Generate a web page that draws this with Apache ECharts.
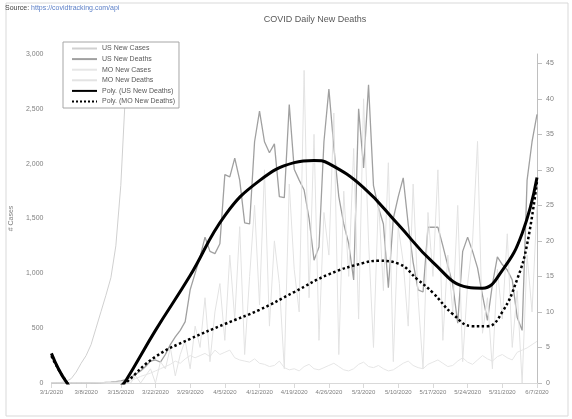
<!DOCTYPE html>
<html><head><meta charset="utf-8">
<script src="https://cdn.jsdelivr.net/npm/echarts@6/dist/echarts.min.js"></script>
<style>html,body{margin:0;padding:0;background:#fff}#c{width:572px;height:419px}</style>
</head><body><div id="c"></div>
<script>
// ---- data ----
const startDate = [2020, 3, 1]; // month/day/year category start, daily
const dayCount = 99;
const dates = [];
(function(){ const d0 = new Date(Date.UTC(startDate[0], startDate[1]-1, startDate[2]));
  for (let i=0;i<dayCount;i++){ const d=new Date(d0.getTime()+i*86400000);
    dates.push((d.getUTCMonth()+1)+'/'+d.getUTCDate()+'/'+d.getUTCFullYear()); } })();

const usNewCases = [0,0,5,15,40,100,180,250,350,500,650,800,960,1250,1800,2700,4200,5800,8000,11000,13000,
 17000,19000,20000,24000,27000,29000,32000,31000,28000,30000,33000,32000,34000,29000,28000,30000,31000,33000,29000,
 27000,26000,28000,30000,32000,29000,26000,25000,27000,28000,30000,29000,26000,24000,25000,27000,28000,26000,24000,
 23000,22000,24000,25000,27000,25000,22000,21000,23000,24000,25000,24000,22000,20000,19000,21000,22000,23000,21000,
 19000,18000,20000,21000,22000,20000,19000,18000,19000,20000,21000,22000,21000,19000,20000,22000,24000,25000,27000,
 26000,28000];
const usNewDeaths = [0,0,0,0,0,0,0,0,0,0,2,5,8,12,20,30,50,80,110,150,200,210,190,260,350,420,480,560,850,1000,
 1150,1330,1200,1180,1270,1900,1880,2050,1850,1460,1450,2200,2480,2200,2100,2180,1700,1690,2540,1950,
 1850,1760,1500,1120,1240,2200,2680,2150,1700,1450,1270,940,2500,1960,2720,1800,1600,1450,870,1500,
 1700,1870,1450,1100,850,830,1420,1420,1420,1250,1070,900,545,1200,1330,1200,1050,800,570,900,
 1150,1080,1030,940,600,480,1850,2200,2450];
const moNewCases = [0,0,0,0,0,0,0,0,0,1,2,3,5,8,10,15,25,40,60,75,90,110,130,150,170,200,180,220,250,230,
 250,270,240,300,260,280,300,230,210,200,190,220,180,170,150,160,200,140,120,130,110,150,170,130,120,140,
 160,180,150,120,110,130,170,190,150,140,160,130,110,120,150,180,200,160,140,130,170,190,210,180,
 150,160,200,230,190,170,210,250,220,200,240,260,230,210,280,300,320,350,380];
const moNewDeaths = [0,0,0,0,0,0,0,0,0,0,0,0,0,0,0,0,0,1,0,1,2,0,3,2,5,1,4,6,2,8,5,12,3,10,14,6,18,9,22,4,
 15,25,11,30,8,20,14,2,28,16,10,44,12,35,6,24,18,38,4,27,15,33,9,40,20,5,26,13,31,3,22,17,8,28,12,2,24,15,30,6,
 18,10,25,3,14,20,34,7,12,2,16,9,21,5,13,0,18,10,25];

// polynomial trendlines, read at selected days
const usTrendDays = [0,3,7,11,14,15,21,28,35,42,49,53,56,63,70,77,84,87,91,95,98];
const usTrendVals = [270,10,-180,-150,-30,20,480,980,1527,1845,2009,2030,2000,1782,1445,1100,873,865,1027,1364,1873];
const moTrendDays = [0,3,7,11,15,21,28,35,42,49,56,63,66,70,74,77,81,85,88,91,94,96,98];
const moTrendVals = [3.8,0.2,-3,-2.5,0,3.7,6.2,8.3,10.3,12.8,15.3,16.9,17.2,16.8,14.5,12.7,9.7,8.0,8.0,10,14.6,19.5,28.4];

const titleText = 'COVID Daily New Deaths';
const sourceLabel = 'Source: ';
const sourceLink = 'https://covidtracking.com/api';
const leftAxisName = '# Cases';

// ---- chart ----
const chart = echarts.init(document.getElementById('c'));
const FONT = 'Liberation Sans';
const pairs = (days, vals) => days.map((d,i)=>[dates[d], vals[i]]);
chart.setOption({
  animation:false,
  textStyle:{fontFamily:FONT},
  graphic:[
    {type:'rect', shape:{x:6,y:3,width:562,height:413}, style:{fill:'none',stroke:'#d9d9d9',lineWidth:1}, z:-10},
    {type:'text', left:5, top:5, style:{text:'{a|'+sourceLabel+'}{b|'+sourceLink+'}', rich:{
      a:{fontSize:7,fill:'#404040',fontFamily:FONT},
      b:{fontSize:7,fill:'#5b7fc7',fontFamily:FONT,textDecoration:'underline'}}}}
  ],
  title:{text:titleText, left:310, top:10, textAlign:'center',
    textStyle:{fontSize:9,fontWeight:'normal',color:'#595959',fontFamily:FONT}},
  legend:{orient:'vertical', left:63, top:42, padding:[3,4,3,8], itemGap:3.6, itemWidth:25, itemHeight:8,
    backgroundColor:'#fff', borderColor:'#a6a6a6', borderWidth:1,
    itemStyle:{opacity:0},
    textStyle:{fontSize:7,color:'#595959',fontFamily:FONT},
    data:['US New Cases','US New Deaths','MO New Cases','MO New Deaths','Poly. (US New Deaths)','Poly. (MO New Deaths)']},
  grid:{left:51, right:35, top:54, bottom:36},
  xAxis:{type:'category', data:dates, boundaryGap:false,
    axisLine:{lineStyle:{color:'#d9d9d9'}},
    axisTick:{interval:6, lineStyle:{color:'#d9d9d9'}},
    axisLabel:{interval:6, fontSize:6, color:'#7f7f7f', margin:6, fontFamily:FONT}},
  yAxis:[
    {type:'value', min:0, max:3000, interval:500, name:leftAxisName, nameLocation:'middle', nameRotate:90, nameGap:36,
      nameTextStyle:{fontSize:7,color:'#7f7f7f'},
      axisLine:{show:false}, axisTick:{show:false}, splitLine:{show:false},
      axisLabel:{fontSize:7, color:'#7f7f7f', formatter:v=>v.toLocaleString('en-US')}},
    {type:'value', min:0, max:46.3, interval:5, position:'right',
      axisLine:{show:true, lineStyle:{color:'#bfbfbf'}}, axisTick:{show:true, lineStyle:{color:'#bfbfbf'}},
      splitLine:{show:false},
      axisLabel:{fontSize:7, color:'#7f7f7f', showMaxLabel:false, margin:9}}
  ],
  series:[
    {name:'US New Cases', type:'line', data:usNewCases, symbol:'none', lineStyle:{color:'#d0d0d0',width:1}, itemStyle:{color:'#d0d0d0'}},
    {name:'US New Deaths', type:'line', data:usNewDeaths, symbol:'none', lineStyle:{color:'#a0a0a0',width:1.3}, itemStyle:{color:'#a0a0a0'}, z:3},
    {name:'MO New Cases', type:'line', data:moNewCases, symbol:'none', lineStyle:{color:'#e6e6e6',width:1}, itemStyle:{color:'#e6e6e6'}},
    {name:'MO New Deaths', type:'line', yAxisIndex:1, data:moNewDeaths, symbol:'none', lineStyle:{color:'#e3e3e3',width:1}, itemStyle:{color:'#e3e3e3'}},
    {name:'Poly. (US New Deaths)', type:'line', data:pairs(usTrendDays,usTrendVals), smooth:0.45, symbol:'none',
      lineStyle:{color:'#000',width:3}, itemStyle:{color:'#000'}, z:5},
    {name:'Poly. (MO New Deaths)', type:'line', yAxisIndex:1, data:pairs(moTrendDays,moTrendVals), smooth:0.45, symbol:'none',
      lineStyle:{color:'#000',width:2.5,type:'dotted'}, itemStyle:{color:'#000'}, z:5}
  ]
});
</script></body></html>
